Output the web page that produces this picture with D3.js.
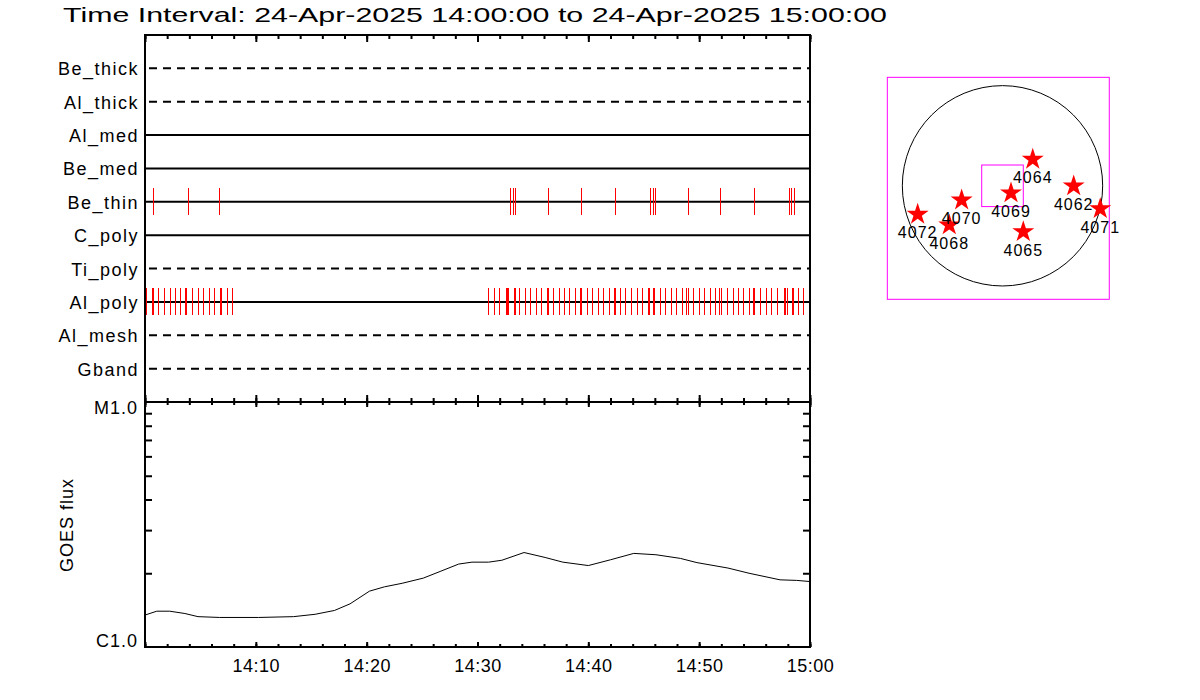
<!DOCTYPE html>
<html>
<head>
<meta charset="utf-8">
<script src="https://cdn.jsdelivr.net/npm/d3@7"></script>
<style>
  html, body { margin: 0; padding: 0; background: #fff; }
  svg { display: block; }
  text { font-family: "Liberation Sans", Arial, sans-serif; fill: #000; }
</style>
</head>
<body>
<svg id="chart" width="1200" height="700"></svg>
<script>
// ---------------- DATA ----------------
const titleText = "Time Interval: 24-Apr-2025 14:00:00 to 24-Apr-2025 15:00:00";
const rows = ["Be_thick", "Al_thick", "Al_med", "Be_med", "Be_thin", "C_poly", "Ti_poly", "Al_poly", "Al_mesh", "Gband"];
const dashedRows = ["Be_thick", "Al_thick", "Ti_poly", "Al_mesh", "Gband"];

// event times, minutes after 14:00
const beThinEvents = [0.75, 3.85, 6.70, 32.91, 33.18, 33.38, 36.39, 39.37, 42.43, 45.56, 45.81, 46.04,
  48.97, 51.91, 54.98, 58.08, 58.31, 58.56];
const alPolyEvents = [0.12, 0.59, 0.68, 1.20, 1.69, 2.23, 2.68, 3.18, 3.65, 3.74, 4.24, 4.75, 5.26, 5.75,
  6.25, 6.74, 6.86, 7.37, 7.82,
  30.99, 31.49, 31.98, 32.54, 32.69, 32.78, 33.27, 33.41, 33.77, 34.26, 34.71, 35.25, 35.76, 36.24, 36.33,
  36.79, 37.33, 37.78, 38.28, 38.82, 39.28, 39.37, 39.85, 40.36, 40.85, 41.35, 41.84, 42.29, 42.38, 42.88,
  43.33, 43.87, 44.36, 44.87, 45.36, 45.45, 45.83, 45.92, 46.47, 46.94, 47.43, 47.94, 48.42, 48.84, 48.97,
  49.47, 49.99, 50.46, 50.98, 51.46, 51.79, 51.97, 52.51, 53.03, 53.53, 53.98, 54.47, 54.86, 54.98, 55.52,
  56.00, 56.48, 57.02, 57.65, 57.76, 57.90, 58.35, 58.47, 58.92, 59.40, 59.89];

// GOES flux (W/m^2) vs minutes after 14:00
const fluxMinutes = [0.0, 1.06, 2.23, 3.6, 4.78, 6.74, 10.26, 13.4, 15.35, 17.1, 18.5, 20.25, 21.6, 23.2,
  25.1, 26.7, 28.3, 29.5, 31.0, 32.2, 34.2, 36.1, 37.7, 40.0, 42.0, 44.1, 46.1, 48.3, 49.8, 52.6, 54.5,
  57.3, 58.8, 60.0];
const fluxValues = [1.35e-6, 1.40e-6, 1.40e-6, 1.37e-6, 1.33e-6, 1.32e-6, 1.32e-6, 1.33e-6, 1.36e-6,
  1.41e-6, 1.50e-6, 1.69e-6, 1.76e-6, 1.82e-6, 1.91e-6, 2.04e-6, 2.18e-6, 2.22e-6, 2.22e-6, 2.26e-6,
  2.43e-6, 2.32e-6, 2.22e-6, 2.15e-6, 2.27e-6, 2.41e-6, 2.38e-6, 2.30e-6, 2.21e-6, 2.10e-6, 2.00e-6,
  1.88e-6, 1.87e-6, 1.85e-6];
const fluxTickLabels = ["C1.0", "M1.0"];
const fluxLabelValues = [1e-6, 1e-5];
const fluxMinorValues = [2e-6, 3e-6, 4e-6, 5e-6, 6e-6, 7e-6, 8e-6, 9e-6];
const timeLabelMinutes = [10, 20, 30, 40, 50, 60];

// active regions (arcsec from disk centre)
const arNames = ["4064", "4062", "4071", "4069", "4070", "4072", "4068", "4065"];
const arX = [288, 678, 931, 81, -389, -808, -507, 198];
const arY = [262, 8, -209, -59, -126, -262, -364, -428];
const solarRadius = 954;
const fovHalf = 198;

// ---------------- DRAW ----------------
const svg = d3.select("#chart");
svg.append("rect").attr("width", 1200).attr("height", 700).attr("fill", "#fff");

const t0 = Date.UTC(2025, 3, 24, 14, 0, 0);
const toDate = m => new Date(t0 + m * 60000);

const L = 145, R = 810, T = 35, MID = 402, B = 647;
const x = d3.scaleUtc().domain([toDate(0), toDate(60)]).range([L, R]);
const yRow = d3.scalePoint().domain(rows).range([T, MID]).padding(1);
const yFlux = d3.scaleLog().domain([1e-6, 1e-5]).range([B, MID]);

// title
svg.append("text").attr("x", 63).attr("y", 22)
  .attr("font-size", 21).attr("textLength", 824).attr("lengthAdjust", "spacingAndGlyphs")
  .text(titleText);

// row lines
const rowG = svg.append("g");
rows.forEach(r => {
  const dashed = dashedRows.includes(r);
  rowG.append("line")
    .attr("x1", dashed ? L + 4 : L).attr("x2", R)
    .attr("y1", yRow(r)).attr("y2", yRow(r))
    .attr("stroke", "#000").attr("stroke-width", 2)
    .attr("stroke-dasharray", dashed ? "8,6" : null);
  rowG.append("text")
    .attr("x", 139).attr("y", yRow(r) + 7)
    .attr("text-anchor", "end").attr("font-size", 18).attr("letter-spacing", 1.5)
    .text(r);
});

// event ticks
function drawEvents(list, row) {
  const yc = yRow(row);
  svg.append("g").selectAll("line").data(list).join("line")
    .attr("x1", d => Math.round(x(toDate(d))) + 0.5)
    .attr("x2", d => Math.round(x(toDate(d))) + 0.5)
    .attr("y1", yc - 14).attr("y2", yc + 13)
    .attr("stroke", "#ff0000").attr("stroke-width", 1)
    .attr("shape-rendering", "crispEdges");
}
drawEvents(beThinEvents, "Be_thin");
drawEvents(alPolyEvents, "Al_poly");

// flux line
const line = d3.line().x((d, i) => x(toDate(fluxMinutes[i]))).y(d => yFlux(d));
svg.append("path").datum(fluxValues).attr("d", line)
  .attr("fill", "none").attr("stroke", "#000").attr("stroke-width", 1);

// frames
svg.append("rect").attr("x", L).attr("y", T).attr("width", R - L).attr("height", MID - T)
  .attr("fill", "none").attr("stroke", "#000").attr("stroke-width", 2);
svg.append("rect").attr("x", L).attr("y", MID).attr("width", R - L).attr("height", B - MID)
  .attr("fill", "none").attr("stroke", "#000").attr("stroke-width", 2);

// time ticks
const minorT = d3.range(0, 61, 2).map(toDate);
const majorT = d3.range(0, 61, 10).map(toDate);
function tickAxis(axisFn, y, vals, size) {
  const g = svg.append("g").attr("transform", `translate(0,${y})`)
    .call(axisFn(x).tickValues(vals).tickSize(size).tickFormat(""));
  g.select(".domain").remove();
  g.selectAll("line").attr("stroke-width", 2);
}
tickAxis(d3.axisBottom, T, minorT, 4);
tickAxis(d3.axisBottom, T, majorT, 7);
tickAxis(d3.axisTop, MID, minorT, 4);
tickAxis(d3.axisTop, MID, majorT, 7);
tickAxis(d3.axisBottom, MID, minorT, 3);
tickAxis(d3.axisBottom, MID, majorT, 5);
tickAxis(d3.axisTop, B, minorT, 3);
tickAxis(d3.axisTop, B, majorT, 5);

// time labels
const lab = svg.append("g").attr("transform", `translate(0,${B})`)
  .call(d3.axisBottom(x).tickValues(timeLabelMinutes.map(toDate)).tickSize(0).tickPadding(12)
    .tickFormat(d3.utcFormat("%H:%M")));
lab.select(".domain").remove();
lab.selectAll("text").attr("font-size", 18).attr("font-family", "Liberation Sans, Arial, sans-serif")
  .attr("fill", "#000").attr("letter-spacing", 0.5);

// flux axes
const la = svg.append("g").attr("transform", `translate(${L},0)`)
  .call(d3.axisRight(yFlux).tickValues(fluxMinorValues).tickSize(7).tickFormat(""));
la.select(".domain").remove();
la.selectAll("line").attr("stroke-width", 2);
const ra = svg.append("g").attr("transform", `translate(${R},0)`)
  .call(d3.axisLeft(yFlux).tickValues(fluxMinorValues).tickSize(7).tickFormat(""));
ra.select(".domain").remove();
ra.selectAll("line").attr("stroke-width", 2);

fluxTickLabels.forEach((t, i) => {
  const v = fluxLabelValues[i];
  svg.append("text").attr("x", 138).attr("y", yFlux(v) + (v === 1e-5 ? 12 : 0))
    .attr("text-anchor", "end").attr("font-size", 18).attr("letter-spacing", 1)
    .text(t);
});
svg.append("text").attr("transform", "translate(73,525) rotate(-90)")
  .attr("text-anchor", "middle").attr("font-size", 18).attr("letter-spacing", 1)
  .text("GOES flux");

// ---------------- inset ----------------
const k = 0.105;
const cx = 1002.5, cy = 185.8;
const xs = d3.scaleLinear().domain([-1097, 1017]).range([cx - 1097 * k, cx + 1017 * k]);
const ys = d3.scaleLinear().domain([1033, -1081]).range([cy - 1033 * k, cy + 1081 * k]);

svg.append("rect").attr("x", xs(-1097)).attr("y", ys(1033))
  .attr("width", xs(1017) - xs(-1097)).attr("height", ys(-1081) - ys(1033))
  .attr("fill", "none").attr("stroke", "#ff00ff").attr("stroke-width", 1);
svg.append("circle").attr("cx", xs(0)).attr("cy", ys(0)).attr("r", xs(solarRadius) - xs(0))
  .attr("fill", "none").attr("stroke", "#000").attr("stroke-width", 1);
svg.append("rect").attr("x", xs(-fovHalf)).attr("y", ys(fovHalf))
  .attr("width", xs(fovHalf) - xs(-fovHalf)).attr("height", ys(-fovHalf) - ys(fovHalf))
  .attr("fill", "none").attr("stroke", "#ff00ff").attr("stroke-width", 1);

const star = d3.symbol().type(d3.symbolStar).size(150);
arNames.forEach((n, i) => {
  svg.append("path").attr("d", star())
    .attr("transform", `translate(${xs(arX[i])},${ys(arY[i]) + 1})`)
    .attr("fill", "#ff0000");
});
arNames.forEach((n, i) => {
  svg.append("text").attr("x", xs(arX[i])).attr("y", ys(arY[i]) + 25)
    .attr("text-anchor", "middle").attr("font-size", 16).attr("letter-spacing", 1)
    .text(n);
});
</script>
</body>
</html>
